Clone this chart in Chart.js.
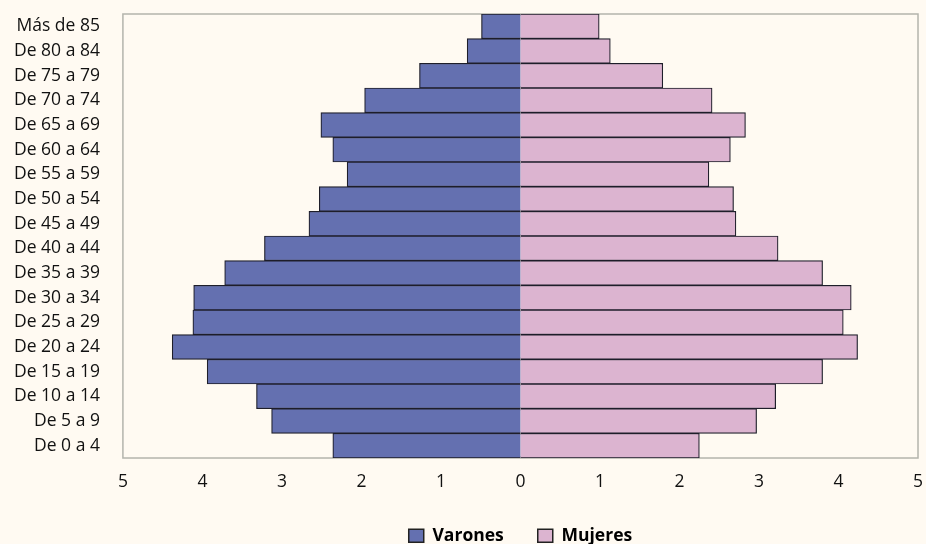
<!DOCTYPE html>
<html>
<head>
<meta charset="utf-8">
<script src="https://cdn.jsdelivr.net/npm/chart.js@4"></script>
<style>
  html, body { margin: 0; padding: 0; background: #fffaf2; }
  #wrap { width: 926px; height: 544px; }
</style>
</head>
<body>
<div id="wrap"><canvas id="pyramid" width="926" height="544"></canvas></div>
<script>
// grupos de edad, de arriba a abajo
const grupos = [
  "Más de 85", "De 80 a 84", "De 75 a 79", "De 70 a 74", "De 65 a 69",
  "De 60 a 64", "De 55 a 59", "De 50 a 54", "De 45 a 49", "De 40 a 44",
  "De 35 a 39", "De 30 a 34", "De 25 a 29", "De 20 a 24", "De 15 a 19",
  "De 10 a 14", "De 5 a 9", "De 0 a 4"
];
const varones = [0.49, 0.67, 1.27, 1.96, 2.51, 2.36, 2.18, 2.53, 2.66, 3.22,
  3.72, 4.11, 4.12, 4.38, 3.94, 3.32, 3.13, 2.36];
const mujeres = [0.99, 1.13, 1.79, 2.41, 2.83, 2.64, 2.37, 2.68, 2.71, 3.24,
  3.80, 4.16, 4.06, 4.24, 3.80, 3.21, 2.97, 2.25];
const ticksX = [-5, -4, -3, -2, -1, 0, 1, 2, 3, 4, 5];

const FONT = "'Open Sans', sans-serif";

// marco gris alrededor del area del grafico
const marco = {
  id: "marco",
  beforeDatasetsDraw(chart) {
    const { ctx, chartArea: a } = chart;
    ctx.save();
    ctx.strokeStyle = "#b4b4ac";
    ctx.lineWidth = 1.5;
    ctx.strokeRect(a.left, a.top, a.right - a.left, a.bottom - a.top);
    ctx.restore();
  }
};

new Chart(document.getElementById("pyramid"), {
  type: "bar",
  data: {
    labels: grupos,
    datasets: [
      {
        label: "Varones",
        data: varones.map(v => -v),
        backgroundColor: "#6470b0",
        borderColor: "#1e1e2a",
        borderWidth: 1.2,
        barPercentage: 1,
        categoryPercentage: 1
      },
      {
        label: "Mujeres",
        data: mujeres,
        backgroundColor: "#dcb4d0",
        borderColor: "#1e1e2a",
        borderWidth: 1.2,
        barPercentage: 1,
        categoryPercentage: 1
      }
    ]
  },
  options: {
    indexAxis: "y",
    responsive: false,
    animation: false,
    layout: { padding: { top: 14, right: 0, left: -9, bottom: 0 } },
    plugins: {
      legend: {
        position: "bottom",
        fullSize: false,
        maxHeight: 51,
        labels: {
          color: "#111",
          font: { family: FONT, size: 17.5, weight: "bold" },
          boxWidth: 15,
          boxHeight: 13,
          padding: 34,
          generateLabels(chart) {
            return chart.data.datasets.map((d, i) => ({
              text: d.label,
              fillStyle: d.backgroundColor,
              strokeStyle: "#222",
              lineWidth: 1.5,
              datasetIndex: i
            }));
          }
        }
      },
      tooltip: { enabled: false }
    },
    scales: {
      x: {
        stacked: true,
        min: -5,
        max: 5,
        afterBuildTicks(axis) { axis.ticks = ticksX.map(v => ({ value: v })); },
        afterFit(axis) { axis.paddingLeft = 0; axis.paddingRight = 8; axis.height -= 14; },
        ticks: {
          color: "#111",
          font: { family: FONT, size: 17.5 },
          padding: 14,
          callback: v => Math.abs(v)
        },
        grid: { display: false, drawTicks: false },
        border: { display: false }
      },
      y: {
        stacked: true,
        afterFit(axis) { axis.paddingTop = 0; axis.paddingBottom = 0; },
        ticks: {
          color: "#111",
          font: { family: FONT, size: 17.5 },
          padding: 23,
          autoSkip: false
        },
        grid: { display: false, drawTicks: false },
        border: { display: false }
      }
    }
  },
  plugins: [marco]
});
</script>
</body>
</html>
